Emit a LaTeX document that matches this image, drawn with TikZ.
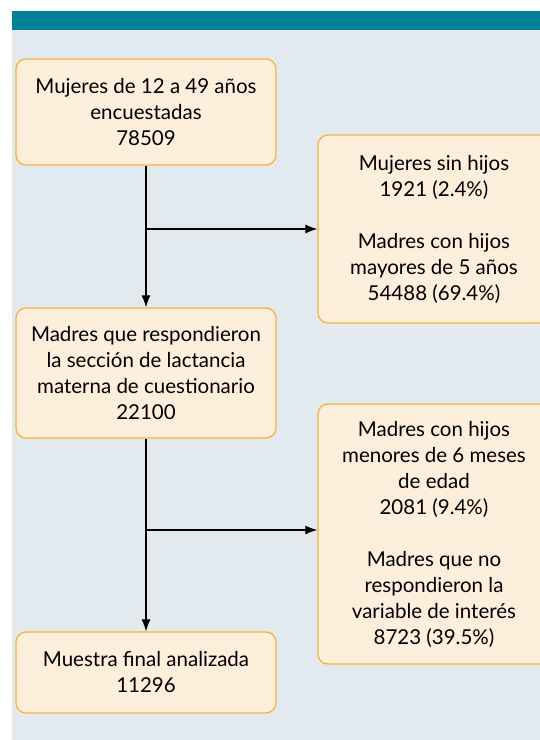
\documentclass[tikz,border=0pt]{standalone}
\usepackage{fontspec}
\setmainfont{Lato}
\usetikzlibrary{arrows.meta}
\definecolor{bandteal}{RGB}{0,130,148}
\definecolor{panelbg}{RGB}{226,234,240}
\definecolor{boxfill}{RGB}{254,239,220}
\definecolor{boxline}{RGB}{246,178,60}
\begin{document}
\begin{tikzpicture}[x=1pt,y=-1pt,
	box/.style={draw=boxline,fill=boxfill,line width=1.3pt,rounded corners=10pt,align=center,inner sep=0pt,font=\fontsize{20.5}{26}\selectfont},
	flow/.style={-{Latex[length=12pt,width=9pt]},line width=1.2pt}]
	\useasboundingbox (0,0) rectangle (540,740);
	\clip (0,0) rectangle (540,740);
	\fill[panelbg] (12,29) rectangle (540,740);
	\fill[bandteal] (12,10.5) rectangle (540,29.5);
	\node[box,minimum width=260pt,minimum height=106pt] (encuesta) at (146,112) {Mujeres de 12 a 49 años\\encuestadas\\78509};
	\node[box,minimum width=232pt,minimum height=188pt] (excluA) at (434,229) {Mujeres sin hijos\\1921 (2.4\%)\\[26pt]Madres con hijos\\mayores de 5 años\\54488 (69.4\%)};
	\node[box,minimum width=260pt,minimum height=130pt] (lactancia) at (146,373) {Madres que respondieron\\la sección de lactancia\\materna de cuestionario\\22100};
	\node[box,minimum width=232pt,minimum height=260pt] (excluB) at (434,534) {Madres con hijos\\menores de 6 meses\\de edad\\2081 (9.4\%)\\[26pt]Madres que no\\respondieron la\\variable de interés\\8723 (39.5\%)};
	\node[box,minimum width=260pt,minimum height=81pt] (muestra) at (146,672.5) {Muestra final analizada\\11296};
	\coordinate (ramaA) at (encuesta.south |- excluA.west);
	\coordinate (ramaB) at (146,530);
	\draw[flow] (encuesta) -- (lactancia);
	\draw[flow] (ramaA) -- (excluA.west);
	\draw[flow] (lactancia) -- (muestra);
	\draw[flow] (ramaB) -- (ramaB -| excluB.west);
\end{tikzpicture}
\end{document}
